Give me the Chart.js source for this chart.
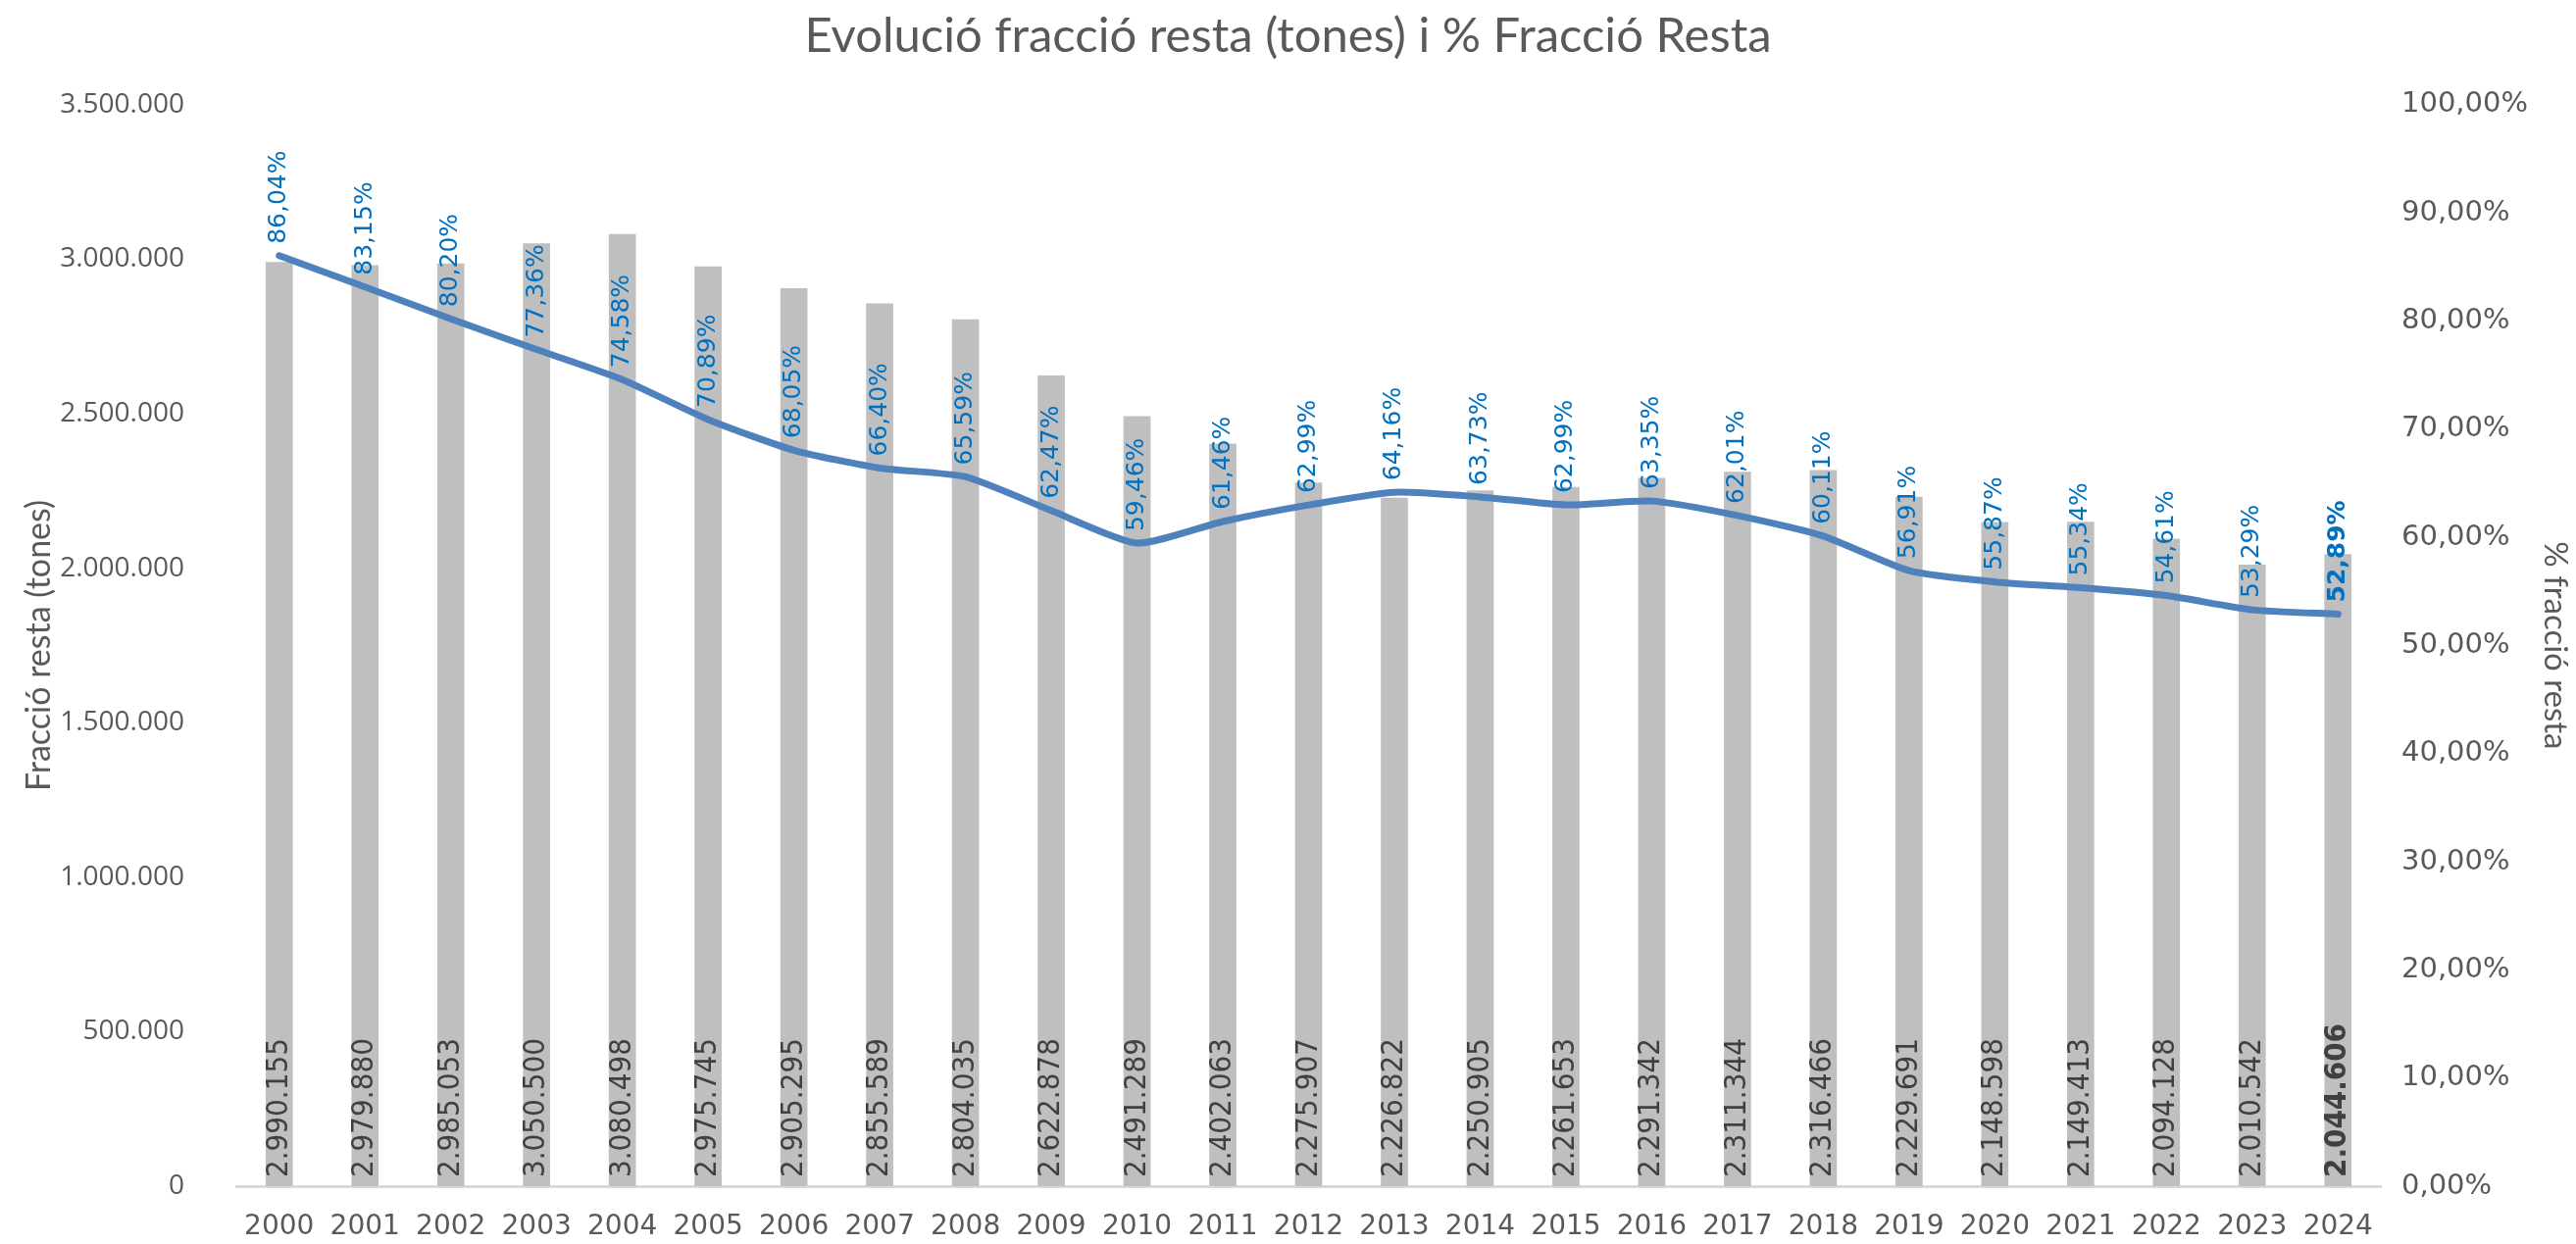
<!DOCTYPE html>
<html>
<head>
<meta charset="utf-8">
<script src="https://cdn.jsdelivr.net/npm/chart.js@4.4.1/dist/chart.umd.min.js"></script>
<style>
  html, body { margin: 0; padding: 0; background: #fff; }
  #wrap { width: 2627px; height: 1269px; }
</style>
</head>
<body>
<div id="wrap"><canvas id="chart"></canvas></div>
<script>
// anys
const years = ['2000', '2001', '2002', '2003', '2004', '2005', '2006', '2007', '2008', '2009',
  '2010', '2011', '2012', '2013', '2014', '2015', '2016', '2017', '2018', '2019',
  '2020', '2021', '2022', '2023', '2024'];

// fraccio resta (tones)
const tones = [2990155, 2979880, 2985053, 3050500, 3080498, 2975745, 2905295, 2855589, 2804035, 2622878,
  2491289, 2402063, 2275907, 2226822, 2250905, 2261653, 2291342, 2311344, 2316466, 2229691,
  2148598, 2149413, 2094128, 2010542, 2044606];

// % fraccio resta
const pctResta = [86.04, 83.15, 80.20, 77.36, 74.58, 70.89, 68.05, 66.40, 65.59, 62.47,
  59.46, 61.46, 62.99, 64.16, 63.73, 62.99, 63.35, 62.01, 60.11, 56.91,
  55.87, 55.34, 54.61, 53.29, 52.89];

// eixos
const tonesMax = 3500000;
const tonesStep = 500000;
const pctMax = 100;
const pctStep = 10;

const grey = '#595959';
const condensed = '"DejaVu Sans Condensed", "DejaVu Sans"';

function fmtThousands(v) {
  return String(Math.round(v)).replace(/\B(?=(\d{3})+(?!\d))/g, '.');
}
function fmtPct(v) {
  return v.toFixed(2).replace('.', ',') + '%';
}

// etiquetes verticals (barres a baix, percentatges sobre la linia)
const verticalLabels = {
  id: 'verticalLabels',
  afterDatasetsDraw(chart) {
    const ctx = chart.ctx;
    const base = chart.scales.y.getPixelForValue(0);
    const last = tones.length - 1;

    chart.getDatasetMeta(0).data.forEach((bar, i) => {
      ctx.save();
      ctx.translate(bar.x, base - 9);
      ctx.rotate(-Math.PI / 2);
      ctx.font = (i === last ? 'bold ' : '') + '31px ' + condensed;
      ctx.fillStyle = '#404040';
      ctx.textAlign = 'left';
      ctx.textBaseline = 'middle';
      ctx.fillText(fmtThousands(tones[i]), 0, 0);
      ctx.restore();
    });

    chart.getDatasetMeta(1).data.forEach((pt, i) => {
      ctx.save();
      ctx.translate(pt.x, pt.y - 12);
      ctx.rotate(-Math.PI / 2);
      ctx.font = (i === last ? 'bold ' : '') + '25px "DejaVu Sans"';
      ctx.fillStyle = '#0070C0';
      ctx.textAlign = 'left';
      ctx.textBaseline = 'middle';
      ctx.fillText(fmtPct(pctResta[i]), 0, 0);
      ctx.restore();
    });
  }
};

// amplades fixes dels eixos verticals, sense marge extra per les etiquetes
function fixVertical(width) {
  return s => {
    s.width = width;
    s.paddingTop = 0;
    s.paddingBottom = 0;
  };
}

new Chart(document.getElementById('chart'), {
  data: {
    labels: years,
    datasets: [
      {
        type: 'bar',
        label: 'Fracció resta (tones)',
        data: tones,
        backgroundColor: '#BFBFBF',
        barThickness: 27,
        yAxisID: 'y',
        order: 2
      },
      {
        type: 'line',
        label: '% Fracció Resta',
        data: pctResta,
        borderColor: '#4F81BD',
        borderWidth: 7,
        borderCapStyle: 'round',
        tension: 0.2,
        pointRadius: 0,
        yAxisID: 'y1',
        order: 1
      }
    ]
  },
  options: {
    responsive: true,
    maintainAspectRatio: false,
    animation: false,
    layout: { padding: 0 },
    plugins: {
      legend: { display: false },
      tooltip: { enabled: false },
      title: {
        display: true,
        text: 'Evolució fracció resta (tones) i % Fracció Resta',
        color: grey,
        font: { family: 'Lato', size: 49, weight: 'normal' },
        padding: { top: 8, bottom: 40 }
      }
    },
    scales: {
      x: {
        grid: { display: false, drawTicks: false },
        border: { color: '#D9D9D9', width: 3 },
        ticks: { color: grey, font: { family: '"DejaVu Sans"', size: 28 }, padding: 25 },
        afterFit(s) { s.height = 59; }
      },
      y: {
        position: 'left',
        min: 0,
        max: tonesMax,
        grid: { display: false, drawTicks: false },
        border: { display: false },
        ticks: {
          stepSize: tonesStep,
          color: grey,
          padding: 53,
          font: { family: '"Open Sans"', size: 28 },
          callback: v => fmtThousands(v)
        },
        title: {
          display: true,
          text: 'Fracció resta (tones)',
          color: grey,
          font: { family: 'Lato', size: 34 },
          padding: { top: 20, bottom: 0 }
        },
        afterFit: fixVertical(241)
      },
      y1: {
        position: 'right',
        min: 0,
        max: pctMax,
        grid: { display: false, drawTicks: false },
        border: { display: false },
        ticks: {
          stepSize: pctStep,
          color: grey,
          padding: 21,
          font: { family: '"DejaVu Sans"', size: 29 },
          callback: v => fmtPct(v)
        },
        title: {
          display: true,
          text: '% fracció resta',
          color: grey,
          font: { family: 'Lato', size: 33 },
          padding: { top: 2, bottom: 0 }
        },
        afterFit: fixVertical(199)
      }
    }
  },
  plugins: [verticalLabels]
});
</script>
</body>
</html>
